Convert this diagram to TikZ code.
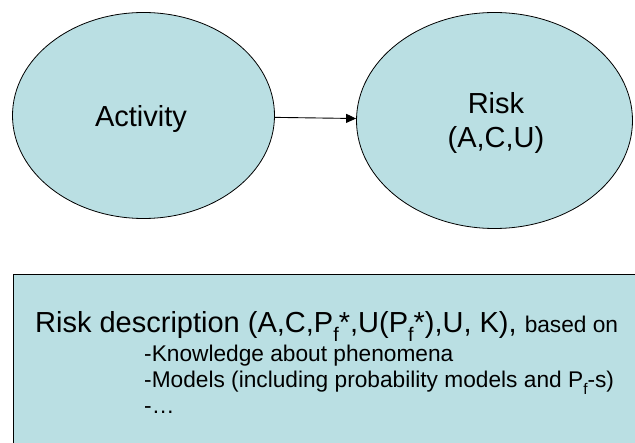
\documentclass[tikz,border=0pt]{standalone}
\usepackage{fontspec}
\setmainfont{Liberation Sans}
\usetikzlibrary{shapes.geometric,arrows.meta}
\definecolor{paleblue}{RGB}{186,223,227}
\newcommand{\subf}{\raisebox{-0.28em}{\scalebox{0.68}{f}}}

\begin{document}
\begin{tikzpicture}[x=1pt, y=-1pt,
  blob/.style={ellipse, draw=black, line width=0.8pt, fill=paleblue, inner sep=0pt},
  bigtext/.style={anchor=base, inner sep=0pt, font=\fontsize{29}{33}\selectfont},
  subline/.style={anchor=base west, inner sep=0pt,
    font=\fontsize{22.7}{26}\selectfont}]
\clip (0,0) rectangle (635,443);

%ellipses
  \node[blob, minimum width=262pt, minimum height=206pt] (act) at (143.5,115.5) {};
  \node[blob, minimum width=276pt, minimum height=216pt] (risk) at (494.5,120.5) {};
  \node[bigtext] (actlbl) at (141,127) {Activity};
  \node[bigtext] (risklbl) at (496,114) {Risk};
  \node[bigtext] (acu) at (496,148) {(A,C,U)};
  \draw[line width=0.9pt, -{Triangle[length=10pt,width=9pt]}] (act) -- (risk);

%description box
  \node[draw=black, line width=1.2pt, fill=paleblue, anchor=north west,
    minimum width=640pt, minimum height=200pt, inner sep=0pt] (desc) at (13,274) {};
  \node[bigtext, anchor=base west] (head) at (35,333)
    {Risk description (A,C,P\subf*,U(P\subf*),U, K),
     {\fontsize{22.7}{26}\selectfont based on}};
  \node[subline] (know) at (144,362) {-Knowledge about phenomena};
  \node[subline] (mod) at (144,388) {-Models (including probability models and P\subf-s)};
  \node[subline] (dots) at (144,414) {-\dots};
\end{tikzpicture}
\end{document}
